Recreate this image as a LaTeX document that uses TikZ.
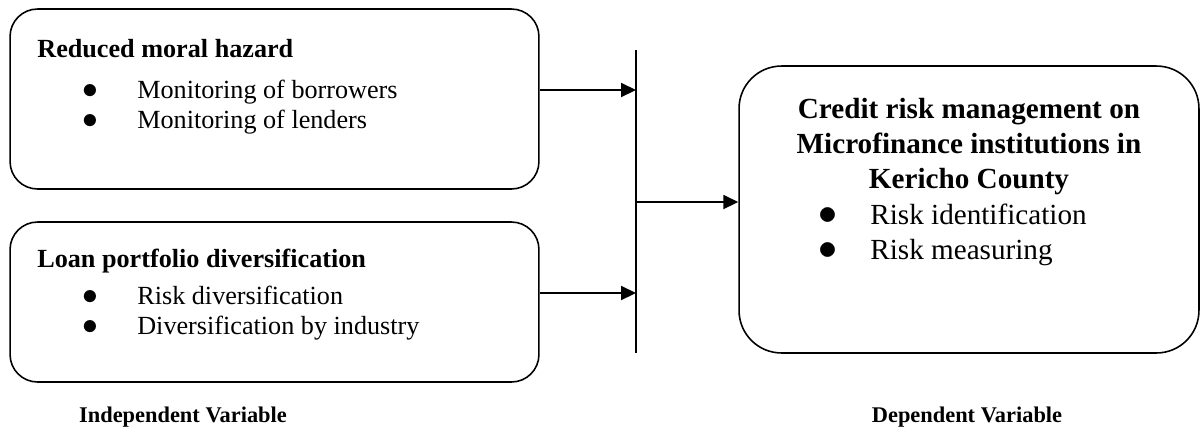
\documentclass[tikz,border=0pt]{standalone}
\usepackage{fontspec}
\setmainfont{Liberation Serif}
\usetikzlibrary{arrows.meta, positioning}

\newcommand{\bulletitem}[2]{\makebox[#1][l]{\scalebox{1.25}{$\bullet$}}#2}

\begin{document}
\begin{tikzpicture}[
        x=0.02cm, y=-0.02cm,
        box/.style={draw, line width=0.9pt, rounded corners=0.55cm, minimum width=10.58cm, inner sep=0pt},
        outbox/.style={draw, line width=0.9pt, rounded corners=0.85cm, minimum width=9.2cm, minimum height=5.74cm, inner sep=0pt},
        head/.style={font=\fontsize{14.9}{17}\selectfont\bfseries, anchor=base west, inner sep=0pt},
        item/.style={font=\fontsize{14.9}{17}\selectfont, anchor=base west, inner sep=0pt},
        outhead/.style={font=\fontsize{16.6}{19.9}\selectfont\bfseries, align=center, anchor=north, inner sep=0pt},
        outitem/.style={font=\fontsize{16.6}{19.9}\selectfont, anchor=base west, inner sep=0pt},
        varlabel/.style={font=\fontsize{12.75}{15}\selectfont\bfseries, anchor=base, inner sep=0pt},
        arrow/.style={-{Triangle[length=8.5pt, width=8pt]}, line width=0.9pt}
    ]
        \useasboundingbox (0,0) rectangle (1200,434);

        % independent variables
        \node[box, minimum height=3.6cm] (moral) at (274.5,99) {};
        \node[head] (moralhead) at (37,57) {Reduced moral hazard};
        \node[item] (moralA) at (82,98) {\bulletitem{31.3pt}{Monitoring of borrowers}};
        \node[item] (moralB) at (82,128) {\bulletitem{31.3pt}{Monitoring of lenders}};

        \node[box, minimum height=3.2cm] (loan) at (274.5,302) {};
        \node[head] (loanhead) at (37,267) {Loan portfolio diversification};
        \node[item] (loanA) at (82,304) {\bulletitem{31.3pt}{Risk diversification}};
        \node[item] (loanB) at (82,334) {\bulletitem{31.3pt}{Diversification by industry}};

        % dependent variable
        \node[outbox] (credit) at (969,209.5) {};
        \node[outhead] (credithead) at (969,98) {Credit risk management on\\Microfinance institutions in\\Kericho County};
        \node[outitem] (creditA) at (818,224) {\bulletitem{29.6pt}{Risk identification}};
        \node[outitem] (creditB) at (818,259) {\bulletitem{29.6pt}{Risk measuring}};

        \node[varlabel] (indep) at (183,422) {Independent Variable};
        \node[varlabel] (dep) at (967,422) {Dependent Variable};

        % connectors
        \coordinate (bartop) at (636,50);
        \coordinate (barbot) at (636,353);
        \draw[line width=0.9pt] (bartop) -- (barbot);
        \draw[arrow] ([yshift=0.18cm]moral.east) -- ([yshift=0.18cm]moral.east -| bartop);
        \draw[arrow] ([yshift=0.18cm]loan.east) -- ([yshift=0.18cm]loan.east -| bartop);
        \draw[arrow] ([yshift=0.15cm]credit.west -| bartop) -- ([yshift=0.15cm]credit.west);
    \end{tikzpicture}
\end{document}
